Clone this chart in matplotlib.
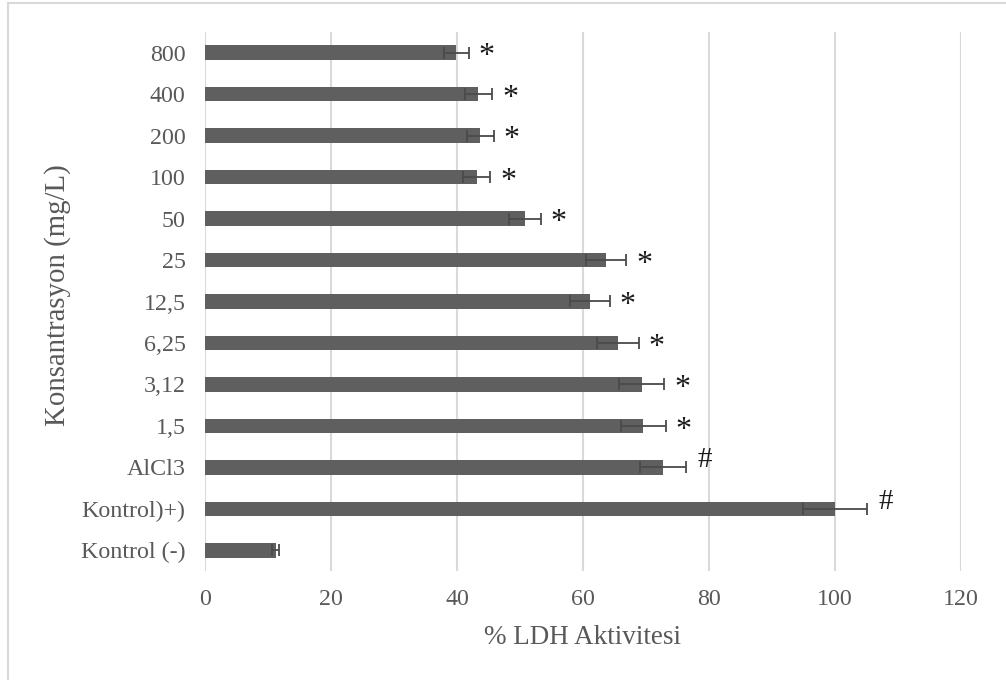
import matplotlib
matplotlib.use("Agg")
import matplotlib.pyplot as plt
from matplotlib.lines import Line2D

categories = ["Kontrol (-)", "Kontrol)+)", "AlCl3", "1,5", "3,12", "6,25",
              "12,5", "25", "50", "100", "200", "400", "800"]
values = [11.2, 100.0, 72.7, 69.6, 69.3, 65.6, 61.1, 63.7, 50.8, 43.1, 43.7, 43.4, 39.9]
errors = [0.6, 5.1, 3.7, 3.6, 3.6, 3.3, 3.2, 3.2, 2.5, 2.2, 2.1, 2.2, 2.0]
marks = ["", "#", "#", "*", "*", "*", "*", "*", "*", "*", "*", "*", "*"]
xticks = [0, 20, 40, 60, 80, 100, 120]

W, H = 1006, 680
fig = plt.figure(figsize=(W / 100, H / 100), dpi=100)
plt.rcParams['font.family'] = ['Liberation Serif', 'DejaVu Serif']

left, right, top, bottom = 205, 961, 32, 571
ax = fig.add_axes([left / W, 1 - bottom / H, (right - left) / W, (bottom - top) / H])

y = list(range(len(categories)))
ax.barh(y, values, height=0.35, color="#5f5f5f", zorder=2)
ax.errorbar(values, y, xerr=errors, fmt="none", ecolor="#4a4a4a",
            elinewidth=1.3, capsize=4.2, capthick=1.3, zorder=3)

for i, (v, e, m) in enumerate(zip(values, errors, marks)):
    if not m:
        continue
    if m == "#":
        ax.annotate(m, xy=(v + e, i), xytext=(8, 5), textcoords="offset points",
                    ha="left", va="center", fontsize=21, color="#1a1a1a")
    else:
        ax.annotate(m, xy=(v + e, i), xytext=(7, -3), textcoords="offset points",
                    ha="left", va="center", fontsize=23, color="#1a1a1a")

ax.set_xlim(0, 120)
ax.set_ylim(-0.5, len(categories) - 0.5)
ax.set_xticks(xticks)
ax.set_yticks(y)
ax.set_yticklabels(categories)
ax.tick_params(axis="both", length=0, labelsize=17.3, labelcolor="#595959")
ax.tick_params(axis="y", pad=14)
ax.tick_params(axis="x", pad=13)
ax.grid(axis="x", color="#d9d9d9", linewidth=1.5)
ax.set_axisbelow(True)
for s in ax.spines.values():
    s.set_visible(False)

ax.set_xlabel("% LDH Aktivitesi", fontsize=19.5, color="#595959", va="center")
ax.set_ylabel("Konsantrasyon (mg/L)", fontsize=20.8, color="#595959", va="center")
ax.xaxis.set_label_coords(((481 + 684) / 2 - left) / (right - left), (bottom - 637) / (bottom - top))
ax.yaxis.set_label_coords((58 - left) / (right - left), 0.5 + ((bottom + top) / 2 - 295) / (bottom - top))

fig.add_artist(Line2D([8 / W, 8 / W], [0, 1 - 3 / H], color="#d9d9d9", linewidth=1.5))
fig.add_artist(Line2D([8 / W, 1], [1 - 3 / H, 1 - 3 / H], color="#d9d9d9", linewidth=1.5))

fig.savefig("out.png", dpi=100)
